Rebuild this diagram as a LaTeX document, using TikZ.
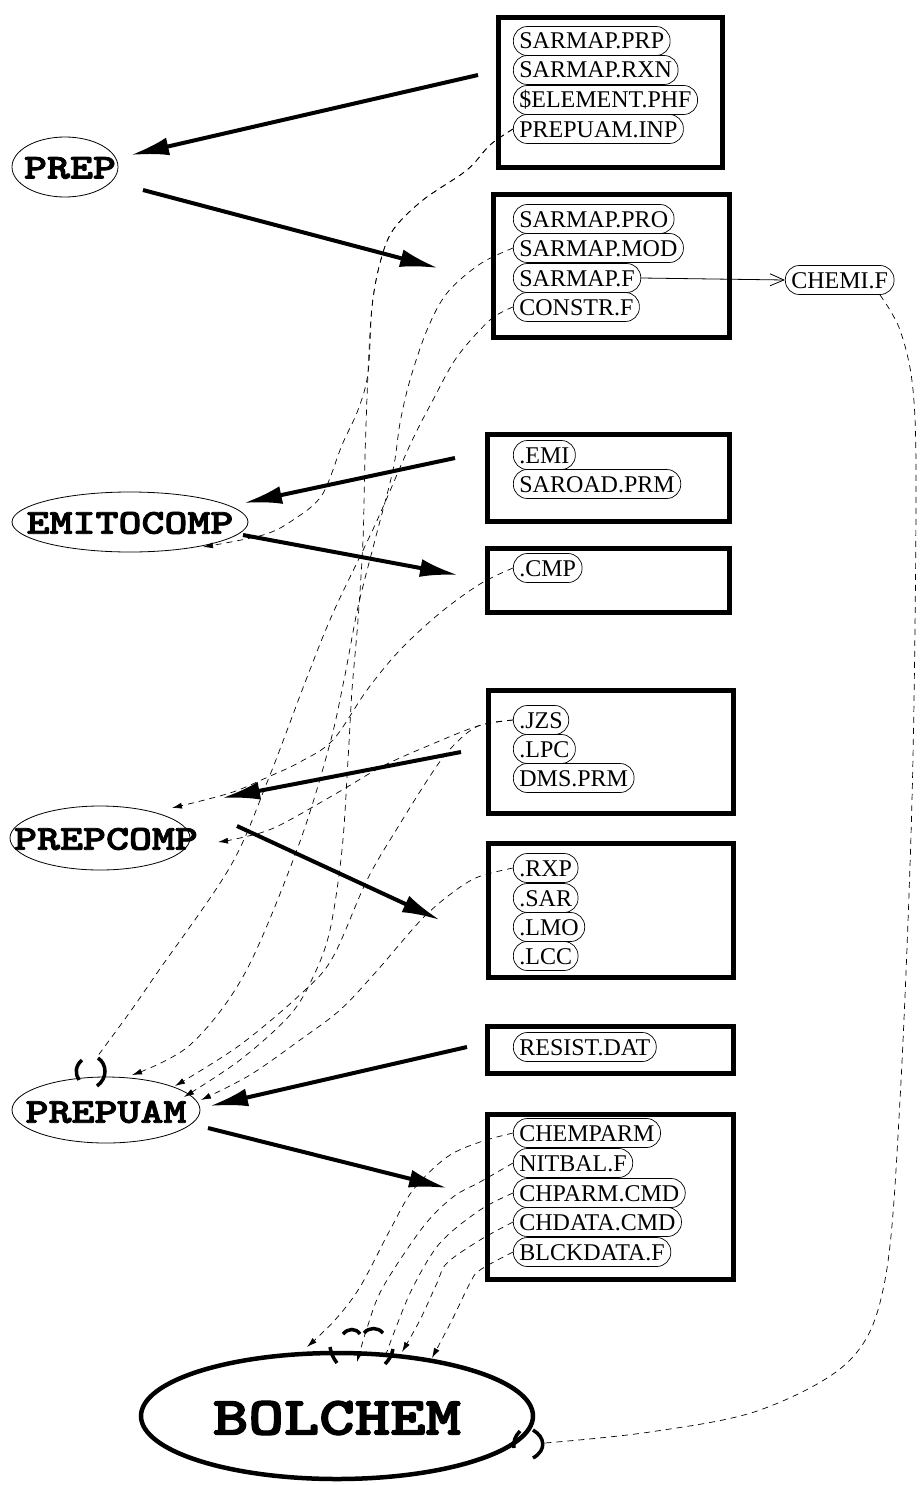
\documentclass[tikz,border=0pt]{standalone}
\usepackage{fontspec}
\usepackage{graphicx}
\setmainfont{Liberation Serif}
\newfontfamily\courb{lmmonolt10-bold}[Extension=.otf, FakeBold=2.2]
\usetikzlibrary{arrows.meta,shapes.geometric}
\newcommand\progtxt[1]{\scalebox{1.25}[1]{\courb #1}}
\newcommand\bigprogtxt[1]{\scalebox{1.25}[1]{\courb #1}}
\tikzset{
  boxsty/.style={draw, line width=5pt, rectangle, inner sep=0pt, anchor=north west},
  pill/.style={draw, line width=0.7pt, rounded corners=14pt, minimum height=29pt,
    inner xsep=6pt, inner ysep=0pt, anchor=west, text height=16pt, text depth=0pt,
    font=\fontsize{24}{24}\selectfont},
  ell/.style={draw, ellipse, line width=0.8pt, inner sep=0pt},
  elltext/.style={font=\fontsize{35}{35}\selectfont, inner sep=0pt},
  bigarrow/.style={line width=4pt, -{Latex[length=38pt,width=18pt]}},
  dep/.style={dash pattern=on 6pt off 5pt, line width=0.7pt, -{Latex[length=10pt,width=6pt]}},
  depplain/.style={dash pattern=on 6pt off 5pt, line width=0.7pt},
  thinarrow/.style={line width=0.8pt, -{Straight Barb[length=14pt,width=12pt]}},
  bracket/.style={line width=3.5pt},
}
\begin{document}
\begin{tikzpicture}[x=1pt,y=-1pt]
\useasboundingbox (0,0) rectangle (919,1485);

% ---------- boxes ----------
\node[boxsty, minimum width=224pt, minimum height=150pt] (box1) at (496,15) {};
\node[boxsty, minimum width=236pt, minimum height=143pt] (box2) at (491,192) {};
\node[boxsty, minimum width=242pt, minimum height=87pt] (box3) at (485,432) {};
\node[boxsty, minimum width=242pt, minimum height=64pt] (box4) at (485,546) {};
\node[boxsty, minimum width=245pt, minimum height=123pt] (box5) at (486,688) {};
\node[boxsty, minimum width=245pt, minimum height=134pt] (box6) at (486,841) {};
\node[boxsty, minimum width=246pt, minimum height=47pt] (box7) at (485,1024) {};
\node[boxsty, minimum width=246pt, minimum height=165pt] (box8) at (485,1112) {};

% ---------- file pills ----------
\node[pill] (prp) at (513,41) {SARMAP.PRP};
\node[pill] (rxn) at (513,70) {SARMAP.RXN};
\node[pill] (phf) at (513,100) {\$ELEMENT.PHF};
\node[pill] (inp) at (513,129) {PREPUAM.INP\hspace{14pt}};

\node[pill] (pro) at (513,219) {SARMAP.PRO};
\node[pill] (mod) at (513,248) {SARMAP.MOD};
\node[pill] (sarf) at (513,278) {SARMAP.F};
\node[pill] (con) at (513,307) {CONSTR.F};
\node[pill] (chemi) at (785,280) {CHEMI.F};

\node[pill] (emi) at (513,455) {.EMI};
\node[pill] (saroad) at (513,484) {SAROAD.PRM};
\node[pill] (cmp) at (513,568) {.CMP};

\node[pill] (jzs) at (513,720) {.JZS};
\node[pill] (lpc) at (513,749) {.LPC};
\node[pill] (dms) at (513,778) {DMS.PRM};

\node[pill] (rxp) at (513,868) {.RXP};
\node[pill] (sar) at (513,898) {.SAR};
\node[pill] (lmo) at (513,927) {.LMO};
\node[pill] (lcc) at (513,956) {.LCC};

\node[pill] (resist) at (513,1047) {RESIST.DAT};

\node[pill] (chemparm) at (513,1133) {CHEMPARM};
\node[pill] (nitbal) at (513,1163) {NITBAL.F};
\node[pill] (chparm) at (513,1193) {CHPARM.CMD};
\node[pill] (chdata) at (513,1222) {CHDATA.CMD};
\node[pill] (blck) at (513,1252) {BLCKDATA.F};

% ---------- programs ----------
\node[ell, minimum width=106pt, minimum height=60pt] (prep) at (65,167) {};
\node[elltext] at (70,168) {\progtxt{PREP}};
\node[ell, minimum width=236pt, minimum height=60pt] (emito) at (130,522) {};
\node[elltext] at (130,523) {\progtxt{EMITOCOMP}};
\node[ell, minimum width=180pt, minimum height=64pt] (prepcomp) at (100,838) {};
\node[elltext] at (106,839) {\progtxt{PREPCOMP}};
\node[ell, minimum width=188pt, minimum height=66pt] (prepuam) at (106,1110) {};
\node[elltext] at (106,1112) {\progtxt{PREPUAM}};
\node[draw, ellipse, line width=4.5pt, inner sep=0pt, minimum width=392pt, minimum height=126pt] (bolchem) at (337,1416) {};
\node[font=\fontsize{54}{54}\selectfont, inner sep=0pt] at (337,1418) {\bigprogtxt{BOLCHEM}};

% ---------- thick arrows ----------
\coordinate (a1s) at (478,75);   \coordinate (a1e) at (131,155);
\coordinate (a2s) at (143,190);  \coordinate (a2e) at (438,268);
\coordinate (a3s) at (455,458);  \coordinate (a3e) at (244,503);
\coordinate (a4s) at (243,535);  \coordinate (a4e) at (458,575);
\coordinate (a5s) at (461,752);  \coordinate (a5e) at (222,798);
\coordinate (a6s) at (237,826);  \coordinate (a6e) at (440,920);
\coordinate (a7s) at (467,1047); \coordinate (a7e) at (210,1106);
\coordinate (a8s) at (208,1128); \coordinate (a8e) at (447,1188);
\draw[bigarrow] (a1s) -- (a1e);
\draw[bigarrow] (a2s) -- (a2e);
\draw[bigarrow] (a3s) -- (a3e);
\draw[bigarrow] (a4s) -- (a4e);
\draw[bigarrow] (a5s) -- (a5e);
\draw[bigarrow] (a6s) -- (a6e);
\draw[bigarrow] (a7s) -- (a7e);
\draw[bigarrow] (a8s) -- (a8e);

% ---------- thin arrow ----------
\draw[thinarrow] (sarf.east) -- (chemi.west);

% ---------- dashed dependencies ----------
\coordinate (tEmi) at (203,547);
\coordinate (tUamA) at (97,1057);
\coordinate (tUamB) at (132,1075);
\coordinate (tUamC) at (175,1086);
\coordinate (tUamD) at (184,1097);
\coordinate (tUamE) at (201,1100);
\coordinate (tCompTop) at (172,808);
\coordinate (tCompRight) at (218,842);
\coordinate (tBolA) at (307,1347);
\coordinate (tBolB) at (357,1362);
\coordinate (tBolC) at (384,1360);
\coordinate (tBolD) at (402,1352);
\coordinate (tBolE) at (432,1358);
\coordinate (tBolR) at (545,1443);
\coordinate (chemiTail) at (880,295);

\draw[dep] plot[smooth, tension=0.55] coordinates {(inp.west) (490,145) (467,170) (423,200) (393,230) (380,263) (372,307) (368,373) (358,410) (342,445) (322,495) (293,520) (263,535) (tEmi)};
\draw[dep] plot[smooth, tension=0.55] coordinates {(inp.west) (490,145) (467,170) (423,200) (393,230) (380,263) (372,307) (368,373) (365,457) (363,540) (358,620) (352,690) (348,760) (342,850) (330,930) (314,975) (290,1015) (240,1060) (tUamD)};
\draw[dep] plot[smooth, tension=0.55] coordinates {(mod.west) (480,264) (447,293) (427,330) (410,380) (400,423) (393,470) (375,540) (358,607) (344,680) (329,747) (298,847) (245,973) (190,1045) (tUamB)};
\draw[depplain] plot[smooth, tension=0.55] coordinates {(con.west) (490,320) (457,357) (433,400) (410,445) (375,525) (333,613) (306,680) (268,780) (230,867) (157,973) (130,1012) (tUamA)};
\draw[dep] plot[smooth, tension=0.55] coordinates {(cmp.west) (480,584) (440,613) (400,650) (367,690) (333,740) (300,762) (268,777) (230,793) (tCompTop)};
\draw[dep] plot[smooth, tension=0.55] coordinates {(jzs.west) (478,726) (430,745) (383,766) (337,793) (276,827) (240,838) (tCompRight)};
\draw[dep] plot[smooth, tension=0.55] coordinates {(jzs.west) (478,726) (452,747) (432,773) (398,827) (367,880) (333,957) (303,992) (240,1045) (tUamC)};
\draw[dep] plot[smooth, tension=0.55] coordinates {(rxp.west) (478,877) (452,893) (421,920) (375,973) (340,1010) (300,1040) (250,1075) (tUamE)};

\draw[dep] plot[smooth, tension=0.55] coordinates {(chemparm.west) (480,1142) (447,1157) (413,1190) (390,1230) (360,1287) (335,1320) (tBolA)};
\draw[dep] plot[smooth, tension=0.55] coordinates {(nitbal.west) (480,1182) (453,1197) (423,1227) (383,1287) (368,1325) (tBolB)};
\draw[depplain] plot[smooth, tension=0.55] coordinates {(chparm.west) (480,1210) (440,1243) (413,1287) (395,1330) (tBolC)};
\draw[dep] plot[smooth, tension=0.55] coordinates {(chdata.west) (480,1240) (447,1263) (437,1283) (420,1320) (tBolD)};
\draw[dep] plot[smooth, tension=0.55] coordinates {(blck.west) (480,1270) (470,1283) (452,1320) (tBolE)};
\draw[depplain] plot[smooth, tension=0.55] coordinates {(chemiTail) (900,330) (913,390) (916,500) (912,800) (900,1100) (885,1280) (850,1360) (760,1410) (650,1432) (tBolR)};

% ---------- bracket marks ----------
\draw[bracket] (82,1060) .. controls (75,1066) and (75,1074) .. (79,1080);
\draw[bracket] (98,1058) .. controls (107,1064) and (108,1078) .. (97,1086);
\draw[bracket] (343,1334) .. controls (348,1328) and (356,1328) .. (360,1334);
\draw[bracket] (364,1333) .. controls (369,1327) and (378,1327) .. (383,1333);
\draw[bracket] (330,1347) .. controls (331,1353) and (333,1358) .. (337,1363);
\draw[bracket] (393,1349) .. controls (392,1355) and (389,1360) .. (385,1364);
\draw[bracket] (520,1431) .. controls (515,1436) and (513,1442) .. (514,1448);
\draw[bracket] (533,1430) .. controls (545,1437) and (547,1450) .. (533,1458);
\end{tikzpicture}
\end{document}
